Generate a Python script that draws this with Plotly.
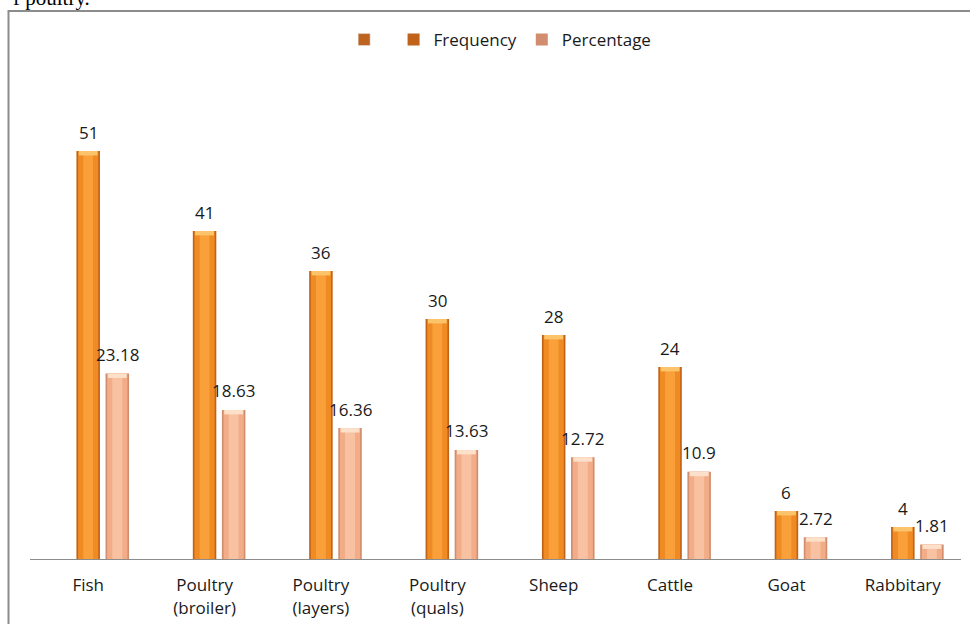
import plotly.graph_objects as go

# Livestock / enterprise categories and survey counts
categories = ["Fish", "Poultry<br>(broiler)", "Poultry<br>(layers)", "Poultry<br>(quals)",
              "Sheep", "Cattle", "Goat", "Rabbitary"]
frequency = [51, 41, 36, 30, 28, 24, 6, 4]
percentage = [23.18, 18.63, 16.36, 13.63, 12.72, 10.9, 2.72, 1.81]
freq_labels = ["51", "41", "36", "30", "28", "24", "6", "4"]
pct_labels = ["23.18", "18.63", "16.36", "13.63", "12.72", "10.9", "2.72", "1.81"]

FONT = "Open Sans"
xs = list(range(len(categories)))
SLOT = 0.25      # distance between series slots within a category
BAR_W = 0.202    # bar width in category units

fig = go.Figure()

# empty first series (shows only in the legend)
fig.add_trace(go.Bar(x=[x - SLOT for x in xs], y=[None] * len(xs), name=" ",
                     width=BAR_W, marker=dict(color="#BF6420"), showlegend=True))


def shaded_bars(values, shift, name, layers, cap_color):
    """Stacked-width overlays give each bar a rounded, shaded look."""
    for k, (frac, color) in enumerate(layers):
        w = BAR_W * frac
        fig.add_trace(go.Bar(
            x=[x + shift for x in xs], y=values, width=w,
            marker=dict(color=color, line=dict(width=0)),
            name=name, showlegend=(k == 0), legendgroup=name,
            hoverinfo="skip" if k else None))
    cap = [0.55 for _ in values]
    fig.add_trace(go.Bar(
        x=[x + shift for x in xs], y=cap, base=[v - 0.55 for v in values],
        width=BAR_W * 0.8, marker=dict(color=cap_color, line=dict(width=0)),
        showlegend=False, legendgroup=name, hoverinfo="skip"))


shaded_bars(frequency, 0.0, "Frequency",
            [(1.0, "#C0621A"), (0.86, "#F08A22"), (0.42, "#F9A03A")], "#FCC46A")
shaded_bars(percentage, SLOT, "Percentage",
            [(1.0, "#D08E6E"), (0.86, "#F2AD88"), (0.42, "#F8C2A2")], "#FCE0CA")

annotations = []
for x, v, t in zip(xs, frequency, freq_labels):
    annotations.append(dict(x=x, y=v, text=t, showarrow=False, yshift=19,
                            xref="x", yref="y", yanchor="middle",
                            font=dict(family=FONT, size=17, color="#1a1a1a")))
for x, v, t in zip(xs, percentage, pct_labels):
    annotations.append(dict(x=x + SLOT, y=v, text=t, showarrow=False, yshift=19,
                            xref="x", yref="y", yanchor="middle",
                            font=dict(family=FONT, size=17, color="#1a1a1a")))

# caption text running off the top of the page
annotations.append(dict(x=(92 - 30) / 931, y=(559 - 12) / 494, xref="paper", yref="paper",
                        xanchor="right", yanchor="bottom", showarrow=False,
                        text="f poultry.",
                        font=dict(family="Liberation Serif", size=21, color="#000000")))

fig.update_layout(
    width=970, height=624,
    margin=dict(l=30, r=9, t=65, b=65, autoexpand=False),
    paper_bgcolor="white", plot_bgcolor="white",
    barmode="overlay",
    showlegend=True,
    legend=dict(orientation="h", x=0.505, xanchor="center", y=(559 - 40) / 494,
                yanchor="middle", font=dict(family=FONT, size=17, color="#1a1a1a"),
                traceorder="normal", itemclick=False),
    xaxis=dict(range=[-0.5, len(categories) - 0.5], tickvals=xs, ticktext=categories,
               showline=True, linecolor="#8c8c8c", linewidth=1, showgrid=False,
               zeroline=False, ticks="", ticklabelstandoff=11, automargin=False,
               tickfont=dict(family=FONT, size=17, color="#1a1a1a")),
    yaxis=dict(range=[0, 494 / 8], visible=False, showgrid=False, zeroline=False,
               automargin=False),
    annotations=annotations,
    shapes=[dict(type="rect", xref="paper", yref="paper",
                 x0=(8.5 - 30) / 931, x1=1.1, y0=-0.3, y1=(559 - 11) / 494,
                 line=dict(color="#8c8c8c", width=2), fillcolor="rgba(0,0,0,0)")],
)

fig.write_html("out.html")
